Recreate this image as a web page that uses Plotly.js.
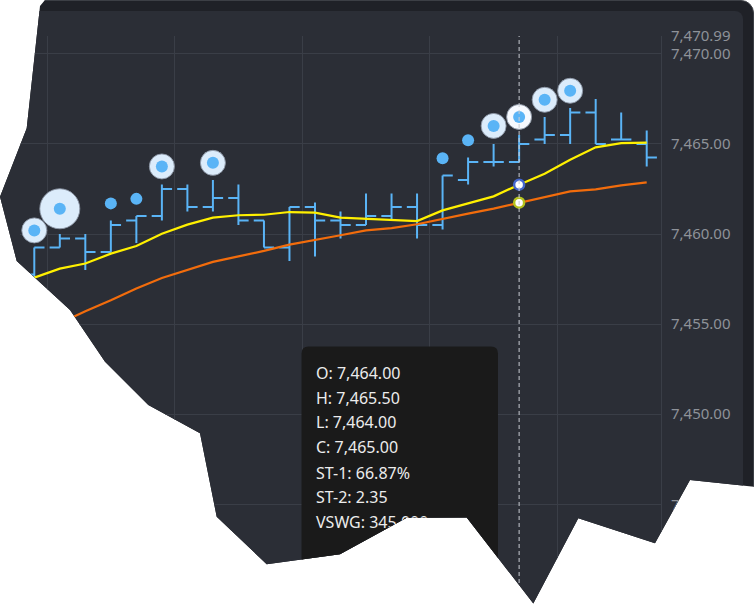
<!DOCTYPE html>
<html>
<head>
<meta charset="utf-8">
<script src="https://cdn.plot.ly/plotly-3.0.1.min.js"></script>
<style>
  html, body { margin: 0; padding: 0; background: #ffffff; width: 754px; height: 604px; overflow: hidden; }
  #wrap {
    position: absolute; left: 0; top: 0; width: 754px; height: 604px;
    clip-path: polygon(45px 0px, 40px 6px, 26.7px 128.3px, 0px 196.7px, 16.7px 261px, 70px 310px,
      105px 361.7px, 148.3px 405px, 200px 433.3px, 216.7px 516.7px, 266.7px 564.3px, 340px 554.3px,
      406.7px 517.7px, 466.7px 517.5px, 533.3px 603.5px, 578.3px 518.3px, 655px 543.3px, 690px 480px,
      754px 486.7px, 754px 0px);
  }
  #frame {
    position: absolute; left: -20px; top: 0; width: 774px; height: 660px;
    background: #1f2127; border-radius: 13px; border: 1px solid #3c3f45; box-sizing: border-box;
  }
  #chart {
    position: absolute; left: -10px; top: 11px; width: 753px; height: 593px;
    border-radius: 8px; overflow: hidden;
  }
</style>
</head>
<body>
<div id="wrap">
  <div id="frame"></div>
  <div id="chart"></div>
</div>
<script>
// ---- data ----
const barIndex = [0,1,2,3,4,5,6,7,8,9,10,11,12,13,14,15,16,17,18,19,20,21,22,23,24];
const openVals  = [7457.75,7459.25,7459.75,7459.0,7460.75,7461.0,7462.5,7461.5,7462.0,7460.75,7459.25,7461.5,7460.75,7460.5,7461.0,7461.5,7460.5,7463.0,7464.0,7464.0,7465.25,7465.5,7466.75,7465.25,7465.0];
const highVals  = [7459.25,7460.0,7460.0,7460.75,7461.0,7462.75,7462.75,7463.0,7462.75,7460.75,7461.5,7461.75,7461.25,7462.25,7462.25,7462.25,7463.25,7464.25,7465.0,7465.5,7466.5,7467.0,7467.5,7466.75,7465.75];
const lowVals   = [7457.5,7459.25,7458.0,7459.0,7459.5,7460.75,7461.25,7461.25,7460.5,7459.25,7458.5,7458.75,7459.75,7460.5,7460.75,7459.75,7460.25,7462.75,7463.75,7464.0,7465.0,7465.0,7465.0,7465.25,7463.75];
const closeVals = [7459.25,7459.75,7459.0,7460.5,7461.0,7462.5,7461.5,7462.0,7460.75,7459.25,7461.5,7460.75,7460.5,7461.0,7461.5,7460.5,7463.25,7464.0,7464.0,7465.0,7465.5,7466.75,7465.0,7465.25,7464.25];

const st1Line = [7457.58,7458.08,7458.36,7458.91,7459.33,7460.02,7460.52,7460.91,7461.04,7461.07,7461.22,7461.19,7460.91,7460.84,7460.76,7460.72,7461.31,7461.68,7462.09,7462.74,7463.35,7464.12,7464.81,7465.04,7465.07];
const st2Line = [7454.38,7455.05,7455.71,7456.32,7456.97,7457.56,7457.99,7458.45,7458.76,7459.06,7459.41,7459.69,7459.93,7460.20,7460.33,7460.54,7460.85,7461.13,7461.41,7461.74,7462.05,7462.37,7462.48,7462.70,7462.87];

const signalIndex    = [0,1,3,4,5,7,16,17,18,19,20,21];
const signalValue    = [7460.2,7461.4,7461.7,7461.95,7463.75,7463.95,7464.2,7465.2,7466.0,7466.5,7467.45,7467.95];
const signalStrength = [2,3,1,1,2,2,1,1,2,2,2,2];

const hoverIndex = 19;
const tooltipLines = ["O: 7,464.00","H: 7,465.50","L: 7,464.00","C: 7,465.00","ST-1: 66.87%","ST-2: 2.35","VSWG: 345,000"];

const yTickVals = [7445,7450,7455,7460,7465,7470,7470.99];
const xGridVals = [0.5,5.5,10.5,15.5,20.5];

// ---- styling / layout ----
const W = 753, H = 593;
const M = {l: 30, r: 82, t: 25, b: 21};
const plotW = W - M.l - M.r, plotH = H - M.t - M.b;
// convert page pixel (window coords) to paper coords
const offX = -10, offY = 11;
const pxX = x => (x - offX - M.l) / plotW;
const pxY = y => 1 - (y - offY - M.t) / plotH;

const blue = '#5ab4f6';
const haloSize = {1: 0, 2: 25, 3: 40};

const traces = [
  {
    type: 'ohlc', x: barIndex, open: openVals, high: highVals, low: lowVals, close: closeVals,
    increasing: {line: {color: blue, width: 2}},
    decreasing: {line: {color: blue, width: 2}},
    tickwidth: 0.4, hoverinfo: 'skip', showlegend: false
  },
  {
    type: 'scatter', mode: 'lines', x: barIndex, y: st2Line,
    line: {color: '#f26c0c', width: 2.2}, hoverinfo: 'skip', showlegend: false
  },
  {
    type: 'scatter', mode: 'lines', x: barIndex, y: st1Line,
    line: {color: '#fff000', width: 2.2}, hoverinfo: 'skip', showlegend: false
  },
  {
    type: 'scatter', mode: 'markers', x: signalIndex, y: signalValue,
    marker: {
      size: signalStrength.map(s => haloSize[s]),
      color: signalIndex.map(i => i === hoverIndex ? '#f7faff' : '#dcecfb'),
      opacity: signalStrength.map(s => s > 1 ? 1 : 0),
      line: {color: 'rgba(140,150,165,0.9)', width: 1}
    },
    hoverinfo: 'skip', showlegend: false
  },
  {
    type: 'scatter', mode: 'markers', x: signalIndex, y: signalValue,
    marker: {size: 12, color: blue, line: {width: 0}},
    hoverinfo: 'skip', showlegend: false
  },
  {
    type: 'scatter', mode: 'markers', x: [barIndex[hoverIndex]], y: [st1Line[hoverIndex]],
    marker: {size: 10, color: '#ffffff', line: {color: '#4466cc', width: 2.5}},
    hoverinfo: 'skip', showlegend: false
  },
  {
    type: 'scatter', mode: 'markers', x: [barIndex[hoverIndex]], y: [st2Line[hoverIndex]],
    marker: {size: 10, color: '#ffffff', line: {color: '#b4c21e', width: 2.5}},
    hoverinfo: 'skip', showlegend: false
  }
];

// tooltip box (rounded top corners)
const L = 301.5, R = 498, T = 346.5, B = 610, rad = 7;
const P = (x, y) => pxX(x).toFixed(5) + ',' + pxY(y).toFixed(5);
const boxPath = 'M' + P(L + rad, T) + ' L' + P(R - rad, T) + ' Q' + P(R, T) + ' ' + P(R, T + rad) +
  ' L' + P(R, B) + ' L' + P(L, B) + ' L' + P(L, T + rad) + ' Q' + P(L, T) + ' ' + P(L + rad, T) + ' Z';

const lineCenters = [373.3, 397.7, 422.3, 447.3, 472.7, 497.3, 522.3];
const annotations = tooltipLines.map((t, i) => ({
  xref: 'paper', yref: 'paper', x: pxX(314), y: pxY(lineCenters[i]),
  xanchor: 'left', yanchor: 'middle', showarrow: false, text: t,
  font: {family: 'Noto Sans, Open Sans, sans-serif', size: 16, color: '#ececec'}
}));

const layout = {
  width: W, height: H,
  margin: M,
  paper_bgcolor: '#2b2e36',
  plot_bgcolor: '#2b2e36',
  showlegend: false,
  hovermode: false,
  dragmode: false,
  xaxis: {
    range: [-0.56, 24.56], tickmode: 'array', tickvals: xGridVals,
    showticklabels: false, ticks: '', showgrid: true, gridcolor: '#3a3e47', gridwidth: 1,
    zeroline: false, showline: false, rangeslider: {visible: false}, fixedrange: true
  },
  yaxis: {
    side: 'right', range: [7440.63, 7470.99], tickmode: 'array', tickvals: yTickVals,
    tickformat: ',.2f', showgrid: true, gridcolor: '#3a3e47', gridwidth: 1,
    zeroline: false, showline: true, linecolor: '#3a3e47', linewidth: 1,
    ticks: 'outside', ticklen: 6, tickcolor: 'rgba(0,0,0,0)',
    tickfont: {family: 'Noto Sans, Open Sans, sans-serif', size: 15, color: '#8e9299'},
    fixedrange: true
  },
  shapes: [
    {type: 'path', xref: 'paper', yref: 'paper', path: boxPath, fillcolor: '#1a1a1a',
     line: {width: 0}, layer: 'above'},
    {type: 'line', xref: 'x', yref: 'paper', x0: barIndex[hoverIndex], x1: barIndex[hoverIndex], y0: 0, y1: 1,
     line: {color: '#c9ccd2', width: 1, dash: '4px,3px'}, layer: 'above'}
  ],
  annotations: annotations
};

Plotly.newPlot('chart', traces, layout, {displayModeBar: false, staticPlot: true});
</script>
</body>
</html>
